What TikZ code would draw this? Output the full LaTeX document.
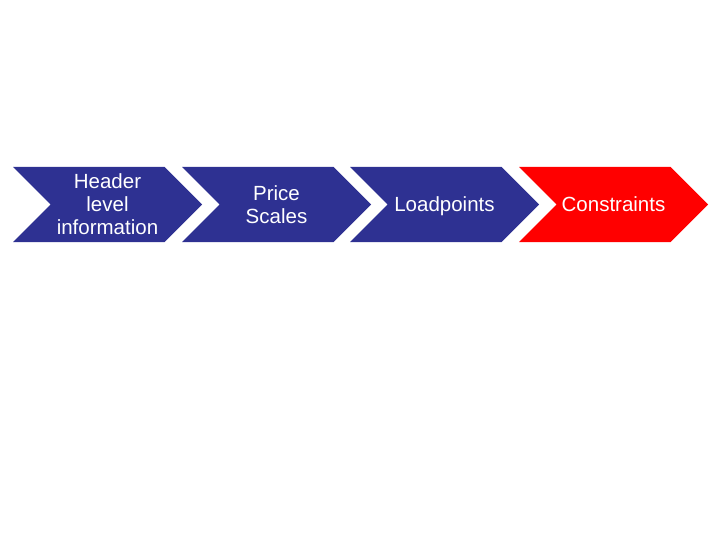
\documentclass[tikz,border=0pt]{standalone}
\usepackage{fontspec}
\setmainfont{Liberation Sans}
\usepackage{xcolor}
\usetikzlibrary{shapes.symbols}
\definecolor{chevblue}{RGB}{46,49,146}
\definecolor{chevred}{RGB}{255,0,0}

\begin{document}
\begin{tikzpicture}[x=1pt,y=-1pt,
    chevron/.style={signal, signal from=west, signal to=east,
      signal pointer angle=90, fill=chevblue, draw=none,
      minimum width=189pt, minimum height=75pt, inner sep=0pt, outer sep=0pt,
      text=white, align=center,
      font=\fontsize{20.5}{23}\selectfont}]
        \useasboundingbox (0,0) rectangle (720,540);

        % Schritte
        \node[chevron] (header) at (107.5,204.5) {Header\\level\\information};
        \node[chevron] (price)  at (276.5,204.5) {Price\\Scales};
        \node[chevron, text depth=0pt] (load) at (444.5,204.5) {Loadpoints};
        \node[chevron, fill=chevred] (constr) at (613.5,204.5) {Constraints};
    \end{tikzpicture}
\end{document}
